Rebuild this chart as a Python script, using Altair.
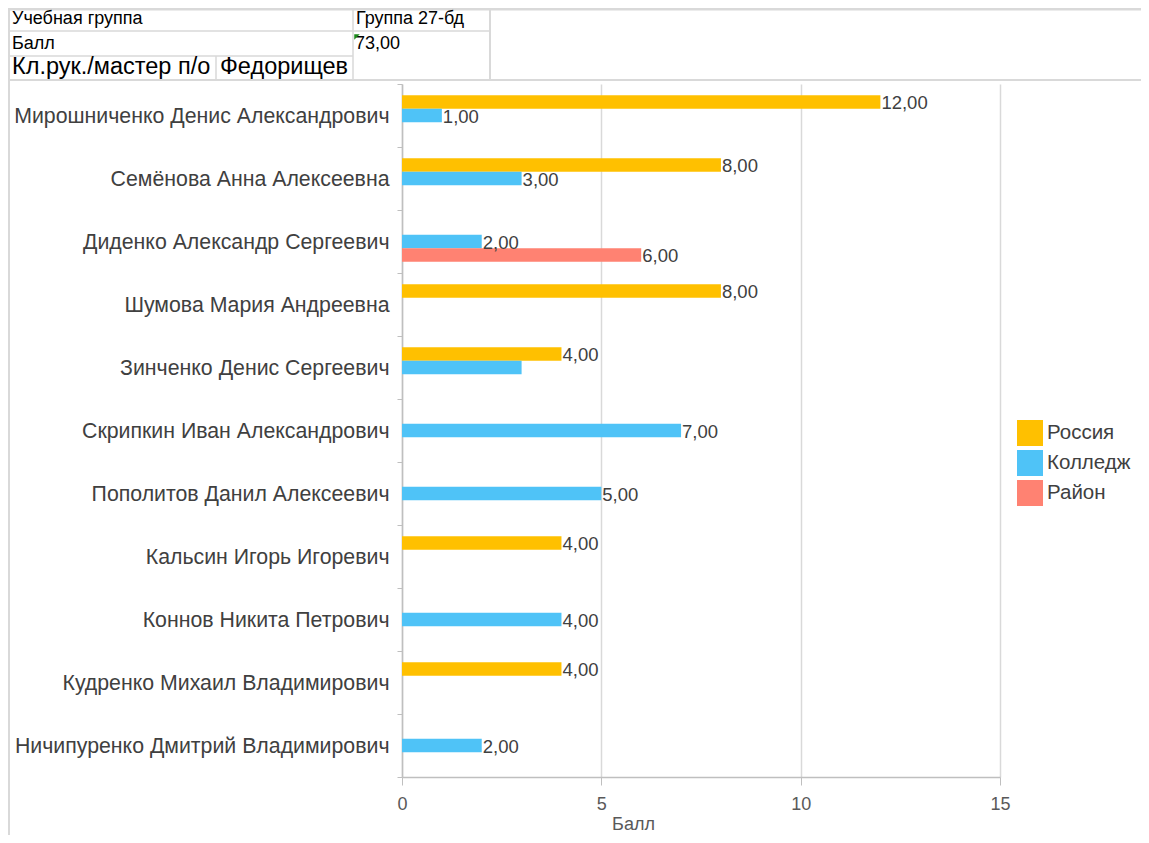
import altair as alt
import pandas as pd

# ---------------- data ----------------
names = [
    "Мирошниченко Денис Александрович",
    "Семёнова Анна Алексеевна",
    "Диденко Александр Сергеевич",
    "Шумова Мария Андреевна",
    "Зинченко Денис Сергеевич",
    "Скрипкин Иван Александрович",
    "Пополитов Данил Алексеевич",
    "Кальсин Игорь Игоревич",
    "Коннов Никита Петрович",
    "Кудренко Михаил Владимирович",
    "Ничипуренко Дмитрий Владимирович",
]
series = ["Россия", "Колледж", "Район"]
russia = [12, 8, None, 8, 4, None, None, 4, None, 4, None]
college = [1, 3, 2, None, 3, 7, 5, None, 4, None, 2]
district = [None, None, 6, None, None, None, None, None, None, None, None]
# data labels that are visible in the original (Зинченко / Колледж has none)
college_label_shown = [True, True, True, None, False, True, True, None, True, None, True]
x_ticks = [0, 5, 10, 15]

table_left = ["Учебная группа", "Балл"]
table_right = ["Группа 27-бд", "73,00"]
curator_label = "Кл.рук./мастер п/о"
curator_name = "Федорищева"

# ---------------- styles ----------------
colors = ["#FFC000", "#4FC3F7", "#FF8272"]
FONT = "Liberation Sans"
GRID = "#d9d9d9"
AXIS = "#bfbfbf"

rows = []
for i, n in enumerate(names):
    for s, vals in zip(series, [russia, college, district]):
        v = vals[i]
        if v is None:
            continue
        show = not (s == "Колледж" and college_label_shown[i] is False)
        lab = f"{v:.2f}".replace(".", ",") if show else ""
        rows.append(dict(name=n, series=s, value=v, label=lab))
df = pd.DataFrame(rows)

# spreadsheet header layout (pixels relative to plot origin)
line_rows = [
    dict(x=-394, x2=739, y=-75, y2=-75, w=3),
    dict(x=-394, x2=88, y=-53, y2=-53, w=1.5),
    dict(x=-394, x2=-49, y=-28, y2=-28, w=1.5),
    dict(x=-394, x2=739, y=-4, y2=-4, w=2),
    dict(x=-393, x2=-393, y=-75, y2=760, w=2),
    dict(x=-49, x2=-49, y=-75, y2=-4, w=1.5),
    dict(x=88, x2=88, y=-75, y2=-4, w=2),
    dict(x=-186, x2=-186, y=-28, y2=-4, w=1.5),
]
lines_df = pd.DataFrame(line_rows)

text_pos = [(-390, -65, 18), (-390, -40, 18)]
text_pos_r = [(-46, -65, 18), (-47, -40, 18)]
trows = []
for t, (x, y, fs) in zip(table_left, text_pos):
    trows.append(dict(t=t, x=x, y=y, fs=fs))
for t, (x, y, fs) in zip(table_right, text_pos_r):
    trows.append(dict(t=t, x=x, y=y, fs=fs))
trows.append(dict(t=curator_label, x=-390, y=-17, fs=23.5))
texts_df = pd.DataFrame(trows)
name_df = pd.DataFrame([dict(t=curator_name, x=-182, y=-17)])
marker_df = pd.DataFrame([dict(x=-45, y=-47)])

# ---------------- chart ----------------
y_enc = alt.Y(
    "name:N",
    sort=names,
    scale=alt.Scale(paddingInner=0, paddingOuter=0),
    axis=alt.Axis(
        title=None,
        tickBand="extent",
        tickSize=5,
        tickColor=AXIS,
        domainColor=AXIS,
        domainWidth=1.5,
        labelFontSize=21.3,
        labelColor="#404040",
        labelPadding=8,
        labelLimit=0,
        labelOffset=1,
        grid=False,
    ),
)
yoff = alt.YOffset(
    "series:N",
    sort=series,
    scale=alt.Scale(domain=series, paddingInner=0, paddingOuter=0.83),
)
x_enc = alt.X(
    "value:Q",
    scale=alt.Scale(domain=[0, 15], nice=False),
    axis=alt.Axis(
        values=x_ticks,
        title="Балл",
        grid=True,
        gridColor=GRID,
        gridWidth=1.5,
        domainColor=AXIS,
        domainWidth=1.5,
        tickColor=AXIS,
        tickSize=8,
        labelFontSize=18,
        labelColor="#595959",
        labelPadding=10,
        labelFlush=False,
        titleFontSize=18,
        titleFontWeight="normal",
        titleColor="#595959",
        titleX=231,
        titleY=52,
        titleBaseline="alphabetic",
    ),
)

bars = alt.Chart(df).mark_bar().encode(
    x=x_enc,
    y=y_enc,
    yOffset=yoff,
    color=alt.Color(
        "series:N",
        sort=series,
        scale=alt.Scale(domain=series, range=colors),
        legend=alt.Legend(
            title=None,
            orient="none",
            legendX=615,
            legendY=336,
            symbolType="square",
            symbolSize=676,
            symbolStrokeWidth=0,
            symbolOpacity=1,
            labelFontSize=20.5,
            labelColor="#404040",
            labelOffset=4,
            rowPadding=4,
            padding=0,
        ),
    ),
)

labels = alt.Chart(df).mark_text(
    align="left", baseline="middle", dx=1, dy=1, fontSize=18.5, color="#404040"
).encode(
    x=alt.X("value:Q"),
    y=alt.Y("name:N", sort=names),
    yOffset=alt.YOffset("series:N", sort=series),
    text="label:N",
)

lines = alt.Chart(lines_df).mark_rule(color=GRID).encode(
    x=alt.X("x:Q", scale=None, axis=None),
    x2="x2:Q",
    y=alt.Y("y:Q", scale=None, axis=None),
    y2="y2:Q",
    strokeWidth=alt.StrokeWidth("w:Q", scale=None),
)

texts = alt.Chart(texts_df).mark_text(
    align="left", baseline="middle", color="#000000"
).encode(
    x=alt.X("x:Q", scale=None, axis=None),
    y=alt.Y("y:Q", scale=None, axis=None),
    text="t:N",
    size=alt.Size("fs:Q", scale=None),
)

name_text = alt.Chart(name_df).mark_text(
    align="left", baseline="middle", color="#000000", fontSize=23.5,
    limit=136, ellipsis="\u200b"
).encode(
    x=alt.X("x:Q", scale=None, axis=None),
    y=alt.Y("y:Q", scale=None, axis=None),
    text="t:N",
)

marker = alt.Chart(marker_df).mark_point(
    shape="M-1,-1 L1,-1 L-1,1 Z", filled=True, color="#1a8a1a", size=30, opacity=1
).encode(
    x=alt.X("x:Q", scale=None, axis=None),
    y=alt.Y("y:Q", scale=None, axis=None),
)

chart = alt.layer(bars, labels, lines, texts, name_text, marker).properties(
    width=598,
    height=693,
    autosize=alt.AutoSizeParams(type="none"),
    padding={"left": 394, "top": 76, "right": 141, "bottom": 58},
).configure(
    font=FONT,
).configure_view(stroke=None)

chart.save("out.html", embed_options={"renderer": "svg", "actions": False})
